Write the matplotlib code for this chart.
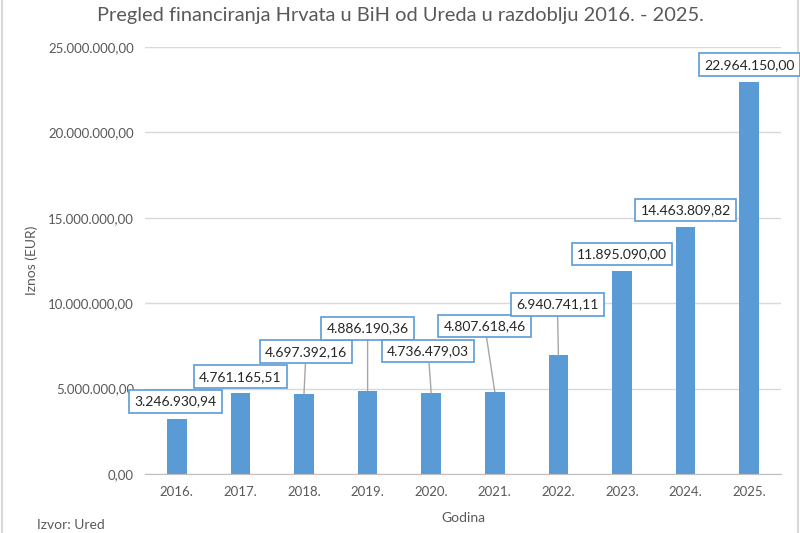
import matplotlib.pyplot as plt
from matplotlib.lines import Line2D

plt.rcParams['font.family'] = ['Lato', 'DejaVu Sans']

# Data
years = ['2016.', '2017.', '2018.', '2019.', '2020.', '2021.', '2022.', '2023.', '2024.', '2025.']
amounts = [3246930.94, 4761165.51, 4697392.16, 4886190.36, 4736479.03,
           4807618.46, 6940741.11, 11895090.00, 14463809.82, 22964150.00]
yticks = [0, 5e6, 10e6, 15e6, 20e6, 25e6]

# label offsets from bar top (pixels), as placed in the original
label_dx = [-1, 0, 2, 0, -3, -10, -1, 0, 0, 0]
label_dy = [17, 16, 42, 62, 42, 66, 51, 17, 17, 17]

bar_color = '#5B9BD5'
text_gray = '#595959'


def fmt(v):
    s = f'{v:,.2f}'
    return s.replace(',', 'X').replace('.', ',').replace('X', '.')


fig = plt.figure(figsize=(8, 5.33), dpi=100)
ax = fig.add_axes([145 / 800, 1 - 474 / 533, 636 / 800, 427 / 533])

x = range(len(years))
ax.bar(x, amounts, width=0.31, color=bar_color, zorder=2)

ax.set_xlim(-0.5, len(years) - 0.5)
ax.set_ylim(0, 25e6)
ax.set_yticks(yticks)
ax.set_yticklabels([fmt(t) for t in yticks])
ax.set_xticks(list(x))
ax.set_xticklabels(years)
ax.tick_params(length=0, colors=text_gray, labelsize=9.5)
ax.tick_params(axis='y', pad=8)
ax.tick_params(axis='x', pad=9)
ax.grid(axis='y', color='#D9D9D9', linewidth=1, zorder=0)
for s in ['top', 'right', 'left']:
    ax.spines[s].set_visible(False)
ax.spines['bottom'].set_color('#BFBFBF')
ax.spines['bottom'].set_zorder(3)

for i, v in enumerate(amounts):
    props = None
    if label_dy[i] > 30:
        props = dict(arrowstyle='-', color='#A6A6A6', lw=1, shrinkA=0, shrinkB=0)
    ax.annotate(fmt(v), xy=(i, v), xytext=(label_dx[i], label_dy[i]),
                textcoords='offset pixels', ha='center', va='center',
                fontsize=10, color='#262626',
                bbox=dict(boxstyle='square,pad=0.38', fc='white', ec=bar_color, lw=1.2),
                arrowprops=props, zorder=4)

ax.set_ylabel('Iznos (EUR)', color=text_gray, fontsize=10)
ax.yaxis.set_label_coords(-0.168, 0.5)
ax.set_xlabel('Godina', color=text_gray, fontsize=10)
ax.xaxis.set_label_coords(0.5, -0.088)

fig.text(0.5, 1 - 15 / 533, 'Pregled financiranja Hrvata u BiH od Ureda u razdoblju 2016. - 2025.',
         ha='center', va='center', fontsize=14.4, color=text_gray)
fig.text(37 / 800, 1 - 525 / 533, 'Izvor: Ured', ha='left', va='center',
         fontsize=10, color=text_gray)

# chart area border, kept under the data labels
fig.add_artist(Line2D([2 / 800, 2 / 800], [0, 1], color='#D9D9D9', lw=1.5, zorder=-1))
fig.add_artist(Line2D([798 / 800, 798 / 800], [0, 1], color='#D9D9D9', lw=1.5, zorder=-1))

fig.savefig('out.png', dpi=100)
